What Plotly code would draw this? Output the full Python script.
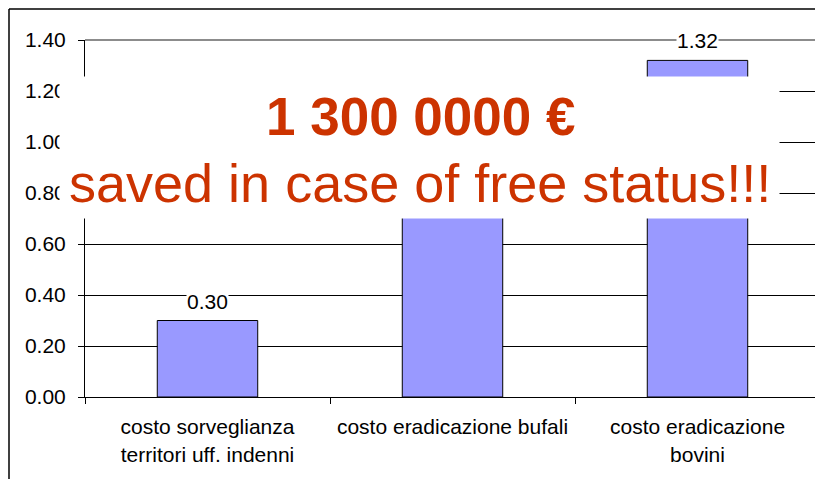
import plotly.graph_objects as go

categories = ["costo sorveglianza<br>territori uff. indenni",
              "costo eradicazione bufali",
              "costo eradicazione<br>bovini"]
values = [0.30, 1.00, 1.32]
value_labels = ["0.30", "1.00", "1.32"]
headline = "1 300 0000 €"
subline = "saved in case of free status!!!"

# page body has an 8px margin: figure coordinates = reference coordinates - 8
OFF = 8
W, H = 823 - OFF, 479 - OFF
L, T = 85 - OFF, 40 - OFF
R = W - (820 - OFF)
B = H - (397 - OFF)
PW, PH = W - L - R, H - T - B

def px_x(px):
    return (px - OFF - L) / PW

def px_y(py):
    return (H - B - (py - OFF)) / PH

FONT = "Liberation Sans, Arial, sans-serif"
RED = "#cc3300"

fig = go.Figure()
fig.add_trace(go.Bar(
    x=categories, y=values,
    marker=dict(color="#9999ff", line=dict(color="black", width=1)),
    width=0.41, hoverinfo="skip",
))

annotations = []
for c, v, t in zip(categories, values, value_labels):
    annotations.append(dict(x=c, y=v, xref="x", yref="y", text=t,
                            showarrow=False, yanchor="bottom", yshift=7,
                            bgcolor="white", borderpad=0,
                            font=dict(family=FONT, size=21, color="black")))
# white overlay box covering part of the chart
annotations.append(dict(x=px_x(419.5), y=px_y(147.5), xref="paper", yref="paper",
                        text=" ", showarrow=False, width=719, height=141,
                        xanchor="center", yanchor="middle",
                        bgcolor="white", borderpad=0))
annotations.append(dict(x=px_x(420), y=px_y(116), xref="paper", yref="paper",
                        text="<b>" + headline + "</b>", showarrow=False,
                        xanchor="center", yanchor="middle", height=62,
                        font=dict(family=FONT, size=53, color=RED)))
annotations.append(dict(x=px_x(420), y=px_y(183), xref="paper", yref="paper",
                        text=subline, showarrow=False,
                        xanchor="center", yanchor="middle", height=62,
                        font=dict(family=FONT, size=54, color=RED)))

shapes = [
    # outer frame
    dict(type="line", xref="paper", yref="paper", x0=px_x(9), x1=px_x(9),
         y0=px_y(9), y1=px_y(479), line=dict(color="black", width=1.5)),
    dict(type="line", xref="paper", yref="paper", x0=px_x(9), x1=px_x(823),
         y0=px_y(9), y1=px_y(9), line=dict(color="black", width=1.5)),
    # plot area top and right border (gray)
    dict(type="line", xref="paper", yref="paper", x0=0, x1=1, y0=1, y1=1,
         line=dict(color="#8c8c8c", width=2), layer="above"),
    dict(type="line", xref="paper", yref="paper", x0=1, x1=1, y0=0, y1=1,
         line=dict(color="#8c8c8c", width=2), layer="above"),
]

fig.update_layout(
    width=W, height=H,
    margin=dict(l=L, r=R, t=T, b=B, pad=0),
    paper_bgcolor="white", plot_bgcolor="white",
    showlegend=False, bargap=0.59,
    font=dict(family=FONT, size=21, color="black"),
    annotations=annotations, shapes=shapes,
    xaxis=dict(type="category", showline=True, linecolor="black", linewidth=1,
               ticks="outside", ticklen=6, tickcolor="black", tickson="boundaries",
               showgrid=False, ticklabelstandoff=11,
               tickfont=dict(family=FONT, size=21, color="black")),
    yaxis=dict(range=[0, 1.4], dtick=0.2, tickformat=".2f",
               showline=True, linecolor="black", linewidth=1,
               ticks="outside", ticklen=6, tickcolor="black",
               showgrid=True, gridcolor="black", gridwidth=1, zeroline=False,
               ticklabelstandoff=8,
               tickfont=dict(family=FONT, size=21, color="black")),
)

fig.write_html("out.html")
